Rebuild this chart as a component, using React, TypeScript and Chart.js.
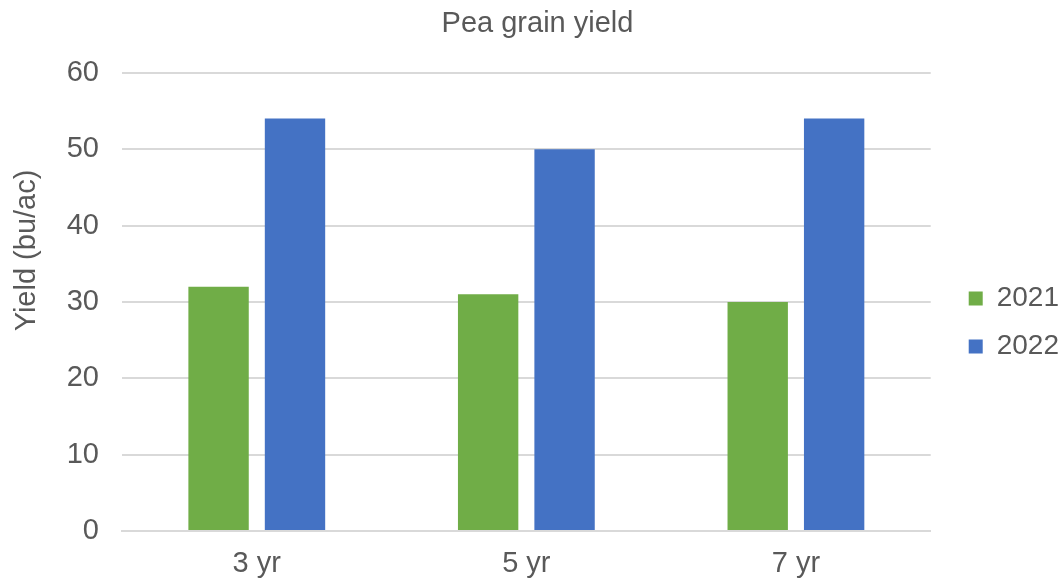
import React, { useEffect, useRef } from "react";
import { Chart, registerables } from "chart.js";

Chart.register(...registerables);

const categories = ["3 yr", "5 yr", "7 yr"];
const yield2021 = [32, 31, 30];
const yield2022 = [54, 50, 54];
const seriesLabels = ["2021", "2022"];
const chartTitle = "Pea grain yield";
const yAxisTitle = "Yield (bu/ac)";

const FONT = "'Liberation Sans', Arial, sans-serif";
const TEXT = "#595959";
const GRID = "#D9D9D9";

// Draws the y-axis title (placed like the original, above the axis centre)
const yTitlePlugin = {
  id: "yTitle",
  afterDraw(chart: any) {
    const c = chart.ctx;
    c.save();
    c.translate(35, 250.5);
    c.rotate(-Math.PI / 2);
    c.fillStyle = TEXT;
    c.font = `29px ${FONT}`;
    c.textAlign = "center";
    c.textBaseline = "alphabetic";
    c.fillText(yAxisTitle, 0, 0);
    c.restore();
  },
};

export default function App() {
  const ref = useRef<HTMLCanvasElement | null>(null);

  useEffect(() => {
    document.body.style.margin = "0";
    const ctx = ref.current!.getContext("2d")!;
    const chart = new Chart(ctx, {
      type: "bar",
      data: {
        labels: categories,
        datasets: [
          {
            label: seriesLabels[0],
            data: yield2021,
            backgroundColor: "#70AD47",
            barPercentage: 0.79,
            categoryPercentage: 0.567,
          },
          {
            label: seriesLabels[1],
            data: yield2022,
            backgroundColor: "#4472C4",
            barPercentage: 0.79,
            categoryPercentage: 0.567,
          },
        ],
      },
      options: {
        responsive: false,
        animation: false,
        devicePixelRatio: 1,
        layout: { padding: { left: 6, right: -7, top: 0, bottom: 0 } },
        plugins: {
          title: {
            display: true,
            text: chartTitle,
            color: TEXT,
            font: { family: FONT, size: 29, weight: "normal" },
            padding: { top: 7, bottom: 31 },
          },
          legend: {
            display: true,
            position: "right",
            title: {
              display: true,
              text: " ",
              font: { family: FONT, size: 10 },
              padding: { top: 25, bottom: 26 },
            },
            labels: {
              color: TEXT,
              font: { family: FONT, size: 28 },
              boxWidth: 14,
              boxHeight: 14,
              padding: 20,
            },
          },
          tooltip: { enabled: false },
        },
        scales: {
          x: {
            grid: { display: false, drawTicks: false },
            border: { display: true, color: GRID, width: 2 },
            ticks: { color: TEXT, font: { family: FONT, size: 29 }, padding: 16 },
            afterFit: (s: any) => {
              s.height = 51;
            },
          },
          y: {
            min: 0,
            max: 60,
            ticks: {
              stepSize: 10,
              color: TEXT,
              font: { family: FONT, size: 29 },
              padding: 23,
            },
            grid: { color: GRID, lineWidth: 2, drawTicks: false },
            border: { display: false },
            title: { display: false },
            afterFit: (s: any) => {
              s.width = 116;
            },
          },
          gap: {
            type: "linear",
            position: "right",
            display: true,
            grid: { display: false, drawTicks: false },
            border: { display: false },
            ticks: { display: false },
            afterFit: (s: any) => {
              s.width = 18;
            },
          },
        },
      },
      plugins: [yTitlePlugin],
    });
    return () => chart.destroy();
  }, []);

  return (
    <div style={{ width: 1062, height: 582 }}>
      <canvas ref={ref} width={1062} height={582} />
    </div>
  );
}
